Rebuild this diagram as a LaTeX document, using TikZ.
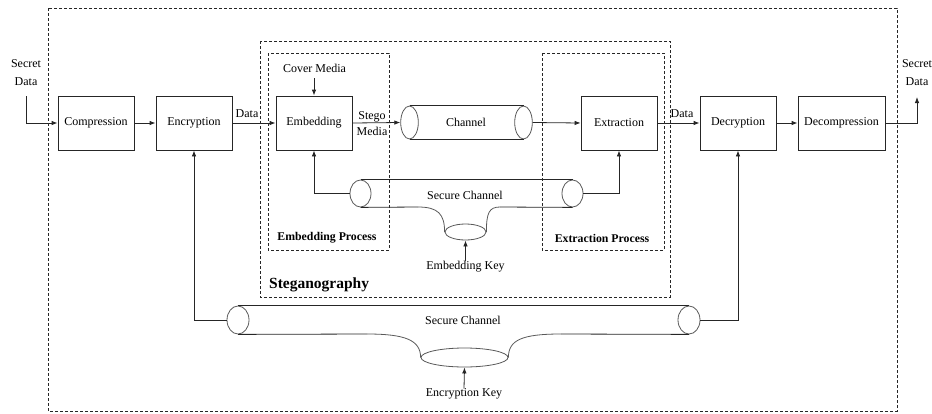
\documentclass[tikz,border=0pt]{standalone}
\usepackage{fontspec}
\setmainfont{Liberation Serif}
\usetikzlibrary{arrows.meta,shapes.geometric}
\tikzset{
  box/.style={draw=black!85, line width=0.8pt, minimum width=76pt, minimum height=54pt, inner sep=0pt, font=\fontsize{12}{14}\selectfont},
  lbl/.style={inner sep=0pt, font=\fontsize{12}{14}\selectfont},
  blbl/.style={inner sep=0pt, font=\fontsize{11.8}{13}\selectfont\bfseries},
  arr/.style={draw=black!85, line width=0.8pt, -{Latex[length=6pt,width=4.5pt]}},
  conn/.style={draw=black!85, line width=0.8pt},
  dbox/.style={draw=black!85, line width=0.7pt, dash pattern=on 3pt off 2pt},
  cyl/.style={draw=black!65, line width=0.8pt, ellipse, inner sep=0pt},
  curv/.style={draw=black!65, line width=0.8pt},
}
\begin{document}
\begin{tikzpicture}[x=1pt,y=-1pt]
\useasboundingbox (0,0) rectangle (932,413);
% dashed frames
\draw[dbox] (48,8) rectangle (897,411);
\draw[dbox] (260,41) rectangle (670,297);
\draw[dbox] (268,53) rectangle (389,250);
\draw[dbox] (542,53) rectangle (664,250);
\node[anchor=west, inner sep=0pt, font=\fontsize{15.5}{17}\selectfont\bfseries] (steglbl) at (269,285) {Steganography};
\node[blbl] (embproc) at (327,238) {Embedding Process};
\node[blbl] (extproc) at (602,238) {Extraction Process};

% boxes
\node[box] (comp) at (96,123) {Compression};
\node[box] (enc) at (194,123) {Encryption};
\node[box] (emb) at (314,123) {Embedding};
\node[box] (ext) at (619,123) {Extraction};
\node[box] (dec) at (738,123) {Decryption};
\node[box, minimum width=87pt] (decomp) at (841.5,123) {Decompression};

% secret data
\node[lbl] (sdl1) at (26,64) {Secret};
\node[lbl] (sdl2) at (26,82) {Data};
\coordinate (sdlin) at (26,96);
\draw[arr] (sdlin) |- (comp.west);
\node[lbl] (sdr1) at (917,64) {Secret};
\node[lbl] (sdr2) at (917,82) {Data};
\coordinate (sdrout) at (917,97);
\draw[arr] (decomp.east) -| (sdrout);

% channel cylinder
\node[cyl, minimum width=17.6pt, minimum height=33pt] (chL) at (409.5,122.5) {};
\node[cyl, minimum width=17.6pt, minimum height=33pt] (chR) at (523.5,122.5) {};
\draw[conn] (chL.north) -- (chR.north);
\draw[conn] (chL.south) -- (chR.south);
\node[lbl] (chlbl) at (466,122.5) {Channel};

% main flow
\draw[arr] (comp) -- (enc);
\draw[arr] (enc) -- (emb);
\node[lbl] (data1) at (247,114) {Data};
\draw[arr] (emb.east) -- (chL.west);
\node[lbl] (stego1) at (372,117) {Stego};
\node[lbl] (stego2) at (372,131) {Media};
\draw[arr] (chR.east) -- (ext.west);
\draw[arr] (ext) -- (dec);
\node[lbl] (data2) at (682,114) {Data};
\draw[arr] (dec) -- (decomp);

% cover media
\node[lbl] (cover) at (314.5,68) {Cover Media};
\coordinate (coverout) at (314,78);
\draw[arr] (coverout) -- (emb.north);

% inner secure channel
\node[cyl, minimum width=21pt, minimum height=27pt] (s1L) at (360.5,193.5) {};
\node[cyl, minimum width=21pt, minimum height=27pt] (s1R) at (572.5,193.5) {};
\node[cyl, minimum width=41pt, minimum height=16pt] (s1K) at (465.5,232) {};
\draw[conn] (s1L.north) -- (s1R.north);
\draw[conn] (s1L.south) -- (418,207);
\draw[curv] (418,207) .. controls (438,207) and (s1K.west|-0,214) .. (s1K.west);
\draw[curv] (s1K.east) .. controls (s1K.east|-0,213) and (489,207) .. (500,207);
\draw[conn] (500,207) -- (s1R.south);
\node[lbl] (s1lbl) at (465,195) {Secure Channel};
\node[lbl] (ekey) at (465.5,267) {Embedding Key};
\draw[arr] (ekey.north) -- (s1K.south);
\draw[arr] (s1L.west) -| (emb.south);
\draw[arr] (s1R.east) -| (ext.south);

% outer secure channel
\node[cyl, minimum width=22pt, minimum height=28pt] (s2L) at (238,320) {};
\node[cyl, minimum width=22pt, minimum height=28pt] (s2R) at (689,320) {};
\node[cyl, minimum width=87pt, minimum height=19pt] (s2K) at (464.5,357.5) {};
\draw[conn] (s2L.north) -- (s2R.north);
\draw[conn] (s2L.south) -- (367,334);
\draw[curv] (367,334) .. controls (405,334) and (s2K.west|-0,340) .. (s2K.west);
\draw[curv] (s2K.east) .. controls (s2K.east|-0,340) and (522,334) .. (561,334);
\draw[conn] (561,334) -- (s2R.south);
\node[lbl] (s2lbl) at (463,320) {Secure Channel};
\node[lbl] (enckey) at (464,394) {Encryption Key};
\draw[arr] (enckey.north) -- (s2K.south);
\draw[arr] (s2L.west) -| (enc.south);
\draw[arr] (s2R.east) -| (dec.south);
\end{tikzpicture}
\end{document}
